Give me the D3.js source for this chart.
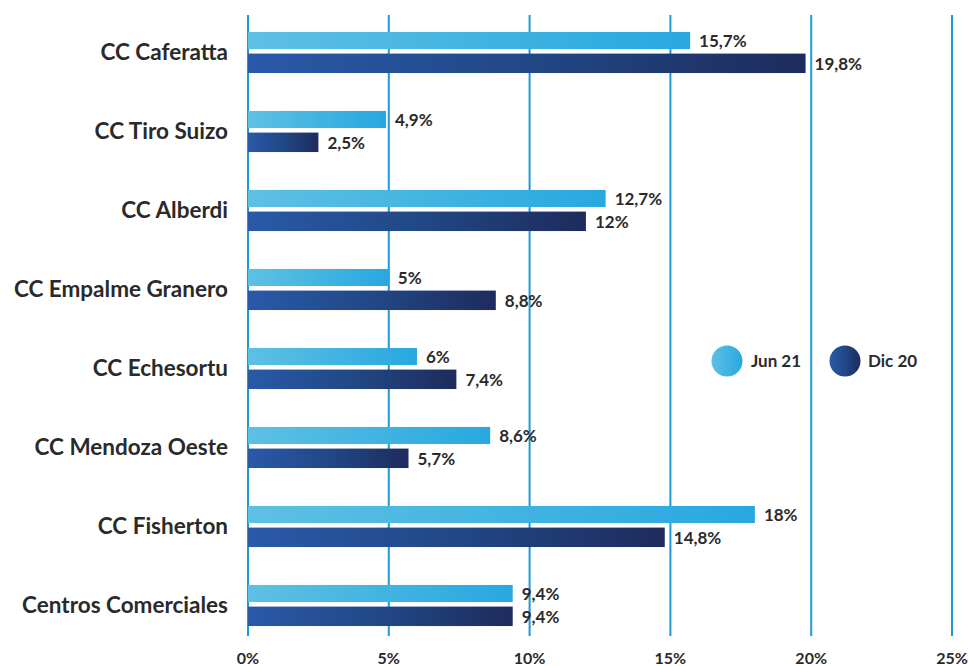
<!DOCTYPE html>
<html>
<head>
<meta charset="utf-8">
<script src="https://cdn.jsdelivr.net/npm/d3@7"></script>
<style>
  html, body { margin: 0; padding: 0; background: #fff; }
  svg { display: block; font-family: Lato, "Open Sans", sans-serif; }
</style>
</head>
<body>
<svg id="chart" width="969" height="666"></svg>
<script>
const categories = ["CC Caferatta", "CC Tiro Suizo", "CC Alberdi", "CC Empalme Granero",
  "CC Echesortu", "CC Mendoza Oeste", "CC Fisherton", "Centros Comerciales"];
const seriesNames = ["Jun 21", "Dic 20"];
const jun21 = [15.7, 4.9, 12.7, 5, 6, 8.6, 18, 9.4];
const dic20 = [19.8, 2.5, 12, 8.8, 7.4, 5.7, 14.8, 9.4];
const tickValues = [0, 5, 10, 15, 20, 25];

const svg = d3.select("#chart");
const textColor = "#2a2a2a";
const gridColor = "#1b9ad6";

const defs = svg.append("defs");
function grad(id, c0, c1, mid) {
  const g = defs.append("linearGradient").attr("id", id)
    .attr("x1", "0%").attr("x2", "100%").attr("y1", "0%").attr("y2", "0%");
  g.append("stop").attr("offset", "0%").attr("stop-color", c0);
  if (mid) g.append("stop").attr("offset", "50%").attr("stop-color", mid);
  g.append("stop").attr("offset", "100%").attr("stop-color", c1);
}
grad("gLight", "#5ec0e3", "#28a8e0");
grad("gDark", "#2a59a8", "#1e2b5c", "#214886");

const x = d3.scaleLinear().domain([0, 25]).range([248, 952]);
const y0 = d3.scaleBand().domain(categories).range([13, 645]).paddingInner(0.48).paddingOuter(0.24);
const y1 = d3.scaleBand().domain(seriesNames).range([0, y0.bandwidth()]).paddingInner(0.1);

// gridlines
svg.append("g").selectAll("line").data(tickValues).join("line")
  .attr("x1", d => x(d)).attr("x2", d => x(d))
  .attr("y1", 15).attr("y2", 636)
  .attr("stroke", gridColor).attr("stroke-width", 2);

// tick labels
svg.append("g").selectAll("text").data(tickValues).join("text")
  .attr("x", d => x(d)).attr("y", 664)
  .attr("text-anchor", "middle")
  .attr("font-size", 16).attr("font-weight", 700).attr("fill", textColor)
  .text(d => d + "%");

const fmt = v => String(v).replace(".", ",") + "%";
const rows = categories.map((c, i) => ({ c, jun: jun21[i], dic: dic20[i] }));

const groups = svg.append("g").selectAll("g").data(rows).join("g")
  .attr("transform", d => `translate(0,${y0(d.c)})`);

// category labels
groups.append("text")
  .attr("x", 228).attr("y", y0.bandwidth() / 2)
  .attr("dy", "0.35em").attr("text-anchor", "end")
  .attr("font-size", 22.5).attr("font-weight", 700).attr("fill", textColor)
  .text(d => d.c);

const specs = [
  { key: "jun", name: "Jun 21", fill: "url(#gLight)", shrink: 2.4 },
  { key: "dic", name: "Dic 20", fill: "url(#gDark)", shrink: 0 }
];
specs.forEach(s => {
  const h = y1.bandwidth() - s.shrink;
  groups.append("rect")
    .attr("x", x(0)).attr("y", y1(s.name))
    .attr("width", d => x(d[s.key]) - x(0))
    .attr("height", h)
    .attr("fill", s.fill);
  groups.append("text")
    .attr("x", d => x(d[s.key]) + 9)
    .attr("y", y1(s.name) + h / 2 + 1)
    .attr("dy", "0.35em")
    .attr("font-size", 17).attr("font-weight", 700).attr("fill", textColor)
    .text(d => fmt(d[s.key]));
});

// legend
const legend = svg.append("g").selectAll("g").data([
  { name: "Jun 21", fill: "url(#gLight)", cx: 727, tx: 751 },
  { name: "Dic 20", fill: "url(#gDark)", cx: 845, tx: 868 }
]).join("g");
legend.append("circle").attr("cx", d => d.cx).attr("cy", 361).attr("r", 15.5).attr("fill", d => d.fill);
legend.append("text").attr("x", d => d.tx).attr("y", 361).attr("dy", "0.35em")
  .attr("font-size", 17).attr("font-weight", 700).attr("fill", textColor)
  .text(d => d.name);
</script>
</body>
</html>
